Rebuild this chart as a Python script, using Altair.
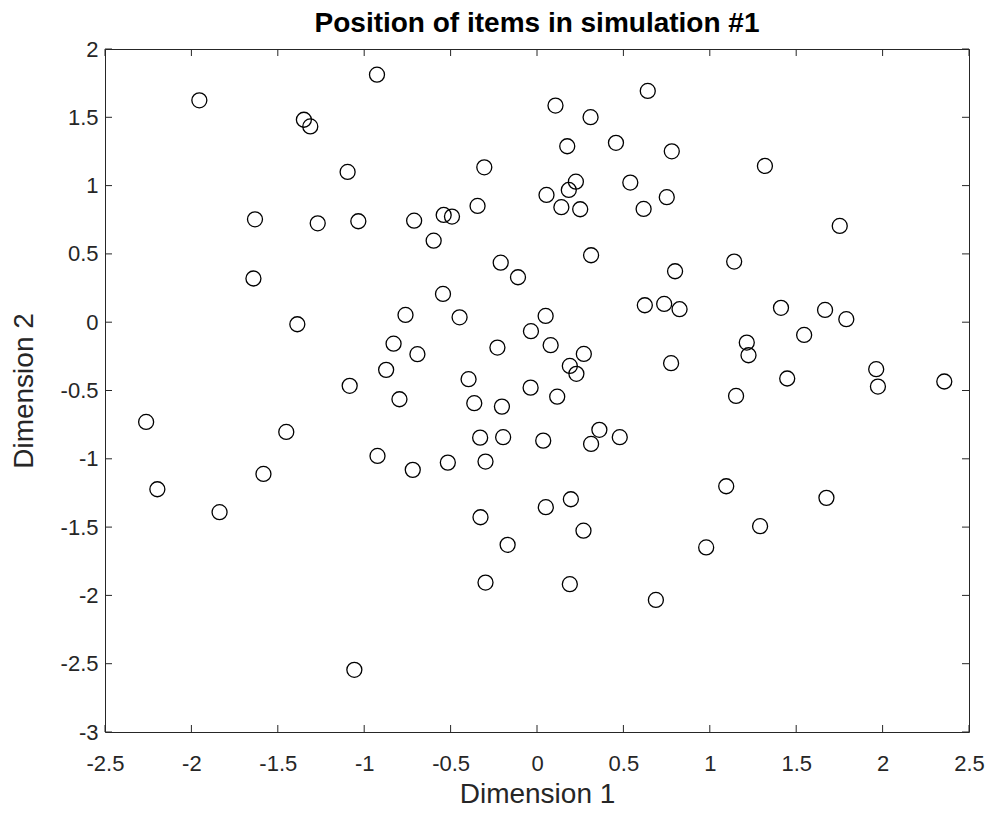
import altair as alt
import pandas as pd

title_text = "Position of items in simulation #1"

xs = [-1.954, -0.926, -1.349, -1.312, -1.096, -1.632, -1.269, -1.034, -0.711, -1.641,
      -1.387, -0.761, -0.830, -0.692, -0.873, -1.084, -0.796, -2.262, -1.451, -0.923,
      -0.719, -1.583, -2.197, -1.837, -1.057, 0.107, 0.310, 0.641, 0.175, 0.457,
      0.780, -0.305, 0.055, 0.184, 0.225, 0.141, 0.250, 0.540, 0.751, 0.617,
      -0.540, -0.492, -0.344, -0.598, -0.210, -0.110, 0.313, 0.799, -0.544, -0.448,
      0.050, -0.035, 0.079, -0.229, 0.271, 0.190, 0.228, 0.624, 0.736, 0.825,
      0.776, -0.396, -0.037, 0.117, -0.363, -0.203, -0.329, -0.196, 0.036, 0.361,
      0.313, 0.479, -0.516, -0.298, -0.327, -0.170, 0.051, 0.196, 0.269, -0.298,
      0.190, 0.688, 1.319, 1.752, 1.141, 1.412, 1.667, 1.790, 1.546, 1.214,
      1.224, 1.448, 1.963, 1.973, 2.357, 1.152, 1.095, 1.675, 1.291, 0.979]
ys = [1.624, 1.812, 1.482, 1.433, 1.100, 0.753, 0.724, 0.739, 0.743, 0.320,
      -0.015, 0.053, -0.157, -0.234, -0.349, -0.466, -0.564, -0.730, -0.803, -0.979,
      -1.081, -1.111, -1.223, -1.391, -2.545, 1.586, 1.501, 1.693, 1.288, 1.313,
      1.251, 1.134, 0.932, 0.968, 1.029, 0.842, 0.827, 1.022, 0.915, 0.829,
      0.785, 0.773, 0.851, 0.597, 0.436, 0.329, 0.490, 0.373, 0.207, 0.036,
      0.046, -0.066, -0.168, -0.186, -0.232, -0.320, -0.378, 0.124, 0.134, 0.095,
      -0.300, -0.417, -0.479, -0.545, -0.593, -0.618, -0.845, -0.842, -0.867, -0.788,
      -0.891, -0.842, -1.028, -1.020, -1.428, -1.630, -1.354, -1.296, -1.526, -1.906,
      -1.918, -2.033, 1.144, 0.705, 0.444, 0.105, 0.090, 0.022, -0.093, -0.149,
      -0.242, -0.412, -0.344, -0.471, -0.434, -0.540, -1.201, -1.286, -1.493, -1.649]

x_ticks = [-2.5, -2, -1.5, -1, -0.5, 0, 0.5, 1, 1.5, 2, 2.5]
y_ticks = [-3, -2.5, -2, -1.5, -1, -0.5, 0, 0.5, 1, 1.5, 2]

W, H = 864, 683
TL = 7
INK = "#262626"
FONT = "Liberation Sans"

pts = pd.DataFrame({"x": xs, "y": ys})
xt = pd.DataFrame({"x": x_ticks})
yt = pd.DataFrame({"y": y_ticks})
tt = pd.DataFrame({"t": [title_text]})

xscale = alt.Scale(domain=[-2.5, 2.5], nice=False, zero=False)
yscale = alt.Scale(domain=[-3, 2], nice=False, zero=False)

xaxis = alt.Axis(values=x_ticks, labelExpr="'' + datum.value", grid=False, ticks=False,
                 tickSize=0, domain=False, labelPadding=21, labelFontSize=22,
                 labelColor=INK, labelFont=FONT, title="Dimension 1", titleFont=FONT,
                 titleFontSize=28, titleFontWeight="normal", titleColor=INK,
                 titleBaseline="alphabetic", titleY=70, labelFlush=False)
yaxis = alt.Axis(values=y_ticks, labelExpr="'' + datum.value", grid=False, ticks=False,
                 tickSize=0, domain=False, labelPadding=7, labelFontSize=22,
                 labelColor=INK, labelFont=FONT, title="Dimension 2", titleFont=FONT,
                 titleFontSize=28, titleFontWeight="normal", titleColor=INK,
                 titleBaseline="alphabetic", titleX=-73, titleAngle=-90, labelFlush=False)

points = alt.Chart(pts).mark_point(shape="circle", size=225, filled=False,
                                   color="#000000", strokeWidth=1.3, opacity=1).encode(
    x=alt.X("x:Q", scale=xscale, axis=xaxis),
    y=alt.Y("y:Q", scale=yscale, axis=yaxis),
)

tick_style = dict(color=INK, strokeWidth=1)
xb = alt.Chart(xt).mark_rule(**tick_style).encode(
    x=alt.X("x:Q", scale=xscale, axis=xaxis), y=alt.value(H), y2=alt.value(H - TL))
xtop = alt.Chart(xt).mark_rule(**tick_style).encode(
    x=alt.X("x:Q", scale=xscale, axis=xaxis), y=alt.value(0), y2=alt.value(TL))
yl = alt.Chart(yt).mark_rule(**tick_style).encode(
    y=alt.Y("y:Q", scale=yscale, axis=yaxis), x=alt.value(0), x2=alt.value(TL))
yr = alt.Chart(yt).mark_rule(**tick_style).encode(
    y=alt.Y("y:Q", scale=yscale, axis=yaxis), x=alt.value(W), x2=alt.value(W - TL))

title = alt.Chart(tt).mark_text(font=FONT, fontSize=28, fontWeight="bold", color="#000000",
                                align="center", baseline="alphabetic").encode(
    text="t:N", x=alt.value(W / 2), y=alt.value(-17))

chart = alt.layer(points, xb, xtop, yl, yr, title).properties(
    width=W, height=H,
    autosize=alt.AutoSizeParams(type="none"),
    padding={"left": 97, "top": 41, "right": 18, "bottom": 76},
).configure(background="white").configure_view(stroke=INK, strokeWidth=1)

chart.save("out.html", embed_options={"renderer": "svg", "actions": False})
